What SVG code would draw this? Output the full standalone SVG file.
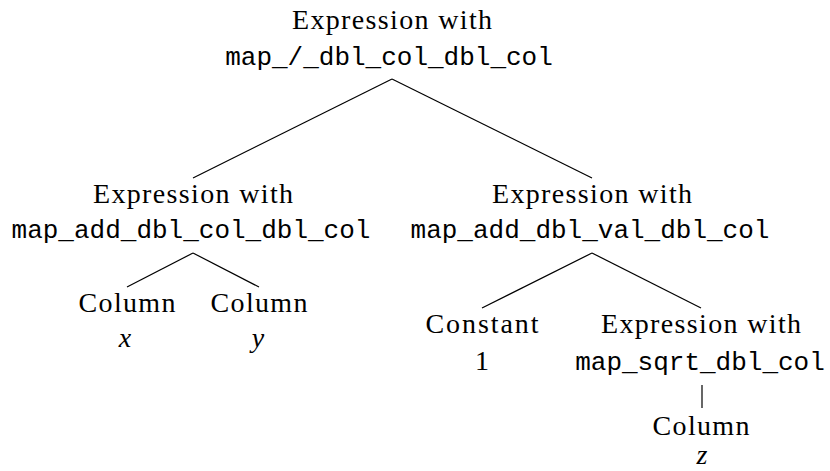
<svg xmlns="http://www.w3.org/2000/svg" width="830" height="471" viewBox="0 0 830 471">
<style>
.s{font-family:"Liberation Serif","Times New Roman",serif;font-size:28px;fill:#000;text-anchor:middle}
.m{font-family:"Liberation Mono","Courier New",monospace;font-size:26px;fill:#000;text-anchor:middle}
.i{font-style:italic}
.e{stroke:#000;stroke-width:1.2;fill:none}
</style>
<rect width="830" height="471" fill="#fff"/>
<g id="connectors">
<line class="e" x1="392" y1="79" x2="193" y2="178"/>
<line class="e" x1="392" y1="79" x2="592" y2="178"/>
<line class="e" x1="193" y1="253" x2="127" y2="287"/>
<line class="e" x1="193" y1="253" x2="259" y2="287"/>
<line class="e" x1="592" y1="253" x2="482" y2="308"/>
<line class="e" x1="592" y1="253" x2="701" y2="308"/>
<line class="e" x1="702" y1="385" x2="702" y2="408"/>
</g>
<g id="root">
<text class="s" x="392" y="29" textLength="200" lengthAdjust="spacing">Expression with</text>
<text class="m" x="389" y="65">map_/_dbl_col_dbl_col</text>
</g>
<g id="left">
<text class="s" x="193" y="203" textLength="200" lengthAdjust="spacing">Expression with</text>
<text class="m" x="191" y="238">map_add_dbl_col_dbl_col</text>
</g>
<g id="colx">
<text class="s" x="127" y="312" textLength="97" lengthAdjust="spacing">Column</text>
<text class="s i" x="125" y="347">x</text>
</g>
<g id="coly">
<text class="s" x="259" y="312" textLength="97" lengthAdjust="spacing">Column</text>
<text class="s i" x="258" y="347">y</text>
</g>
<g id="right">
<text class="s" x="592" y="203" textLength="200" lengthAdjust="spacing">Expression with</text>
<text class="m" x="590" y="238">map_add_dbl_val_dbl_col</text>
</g>
<g id="const">
<text class="s" x="482" y="333" textLength="113" lengthAdjust="spacing">Constant</text>
<text class="s" x="482" y="370">1</text>
</g>
<g id="sqrt">
<text class="s" x="701" y="333" textLength="200" lengthAdjust="spacing">Expression with</text>
<text class="m" x="700" y="370">map_sqrt_dbl_col</text>
</g>
<g id="colz">
<text class="s" x="701" y="435" textLength="97" lengthAdjust="spacing">Column</text>
<text class="s i" x="702" y="464">z</text>
</g>
</svg>
